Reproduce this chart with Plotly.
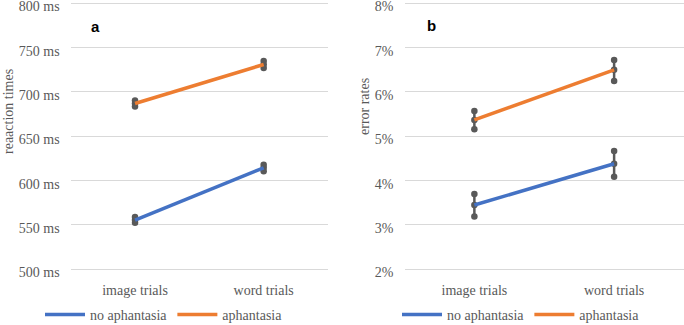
import plotly.graph_objects as go

categories = ["image trials", "word trials"]
series_names = ["no aphantasia", "aphantasia"]

# panel a: reaction times (ms)
rt_mean_no = [555.5, 614.5]
rt_lo_no = [552.5, 610.5]
rt_hi_no = [559.0, 618.0]
rt_mean_aph = [687.0, 731.0]
rt_lo_aph = [683.5, 727.0]
rt_hi_aph = [690.5, 735.0]

# panel b: error rates (%)
er_mean_no = [3.45, 4.38]
er_lo_no = [3.19, 4.09]
er_hi_no = [3.70, 4.67]
er_mean_aph = [5.37, 6.50]
er_lo_aph = [5.16, 6.25]
er_hi_aph = [5.57, 6.72]

rt_ticks = [500, 550, 600, 650, 700, 750, 800]
er_ticks = [2, 3, 4, 5, 6, 7, 8]

BLUE = "#4472C4"
ORANGE = "#ED7D31"
GRAY = "#595959"
GRID = "#D9D9D9"
SERIF = "Liberation Serif"

W, H = 684, 325
fig = go.Figure()


def add_errbars(means, los, his, xa, ya):
    for c, m, lo, hi in zip(categories, means, los, his):
        fig.add_trace(go.Scatter(
            x=[c, c, c], y=[lo, m, hi], mode="lines+markers",
            line=dict(color=GRAY, width=2.5),
            marker=dict(color=GRAY, size=6.5),
            showlegend=False, hoverinfo="skip", xaxis=xa, yaxis=ya))


add_errbars(rt_mean_no, rt_lo_no, rt_hi_no, "x", "y")
add_errbars(rt_mean_aph, rt_lo_aph, rt_hi_aph, "x", "y")
add_errbars(er_mean_no, er_lo_no, er_hi_no, "x2", "y2")
add_errbars(er_mean_aph, er_lo_aph, er_hi_aph, "x2", "y2")

for name, vals, col in [(series_names[0], rt_mean_no, BLUE), (series_names[1], rt_mean_aph, ORANGE)]:
    fig.add_trace(go.Scatter(x=categories, y=vals, mode="lines", name=name,
                             line=dict(color=col, width=3.5), xaxis="x", yaxis="y",
                             legend="legend"))
for name, vals, col in [(series_names[0], er_mean_no, BLUE), (series_names[1], er_mean_aph, ORANGE)]:
    fig.add_trace(go.Scatter(x=categories, y=vals, mode="lines", name=name,
                             line=dict(color=col, width=3.5), xaxis="x2", yaxis="y2",
                             legend="legend2"))

# pixel geometry: 800/8% gridline at y=3.3, 500/2% gridline at y=269.3
px_per_unit_a = (269.3 - 3.3) / 300.0
pad_a = 1.5  # ms beyond ends so end gridlines are drawn
pad_b = 0.03
top_px = 3.3 - pad_a * px_per_unit_a
bot_px = 269.3 + pad_a * px_per_unit_a
ybot = 1 - bot_px / H
ytop = 1 - top_px / H

xcommon = dict(type="category", range=[-0.5, 1.5], showgrid=False, zeroline=False,
               showline=False, ticks="", tickfont=dict(family=SERIF, size=14, color=GRAY),
               ticklabelstandoff=9, automargin=False, fixedrange=True)
ycommon = dict(showgrid=True, gridcolor=GRID, gridwidth=1, zeroline=False, showline=False,
               ticks="", tickfont=dict(family=SERIF, size=14, color=GRAY),
               ticklabelstandoff=10, ticklabelshift=3, automargin=False, fixedrange=True,
               ticklabeloverflow="allow")

legend_common = dict(orientation="h", yref="container", y=1 - 315 / H, xanchor="left",
                     yanchor="middle", xref="container",
                     font=dict(family=SERIF, size=14, color=GRAY), itemwidth=40,
                     bgcolor="rgba(0,0,0,0)", tracegroupgap=0)

fig.update_layout(
    width=W, height=H,
    margin=dict(l=0, r=0, t=0, b=0, autoexpand=False),
    paper_bgcolor="white", plot_bgcolor="white",
    xaxis=dict(domain=[70.7 / W, 328 / W], anchor="y", **xcommon),
    yaxis=dict(domain=[ybot, ytop], anchor="x", range=[500 - pad_a, 800 + pad_a],
               tickvals=rt_ticks, ticktext=[f"{v} ms" for v in rt_ticks], **ycommon),
    xaxis2=dict(domain=[404.5 / W, 1.0], anchor="y2", **xcommon),
    yaxis2=dict(domain=[ybot, ytop], anchor="x2", range=[2 - pad_b, 8 + pad_b],
                tickvals=er_ticks, ticktext=[f"{v}%" for v in er_ticks], **ycommon),
    legend=dict(x=40 / W, **legend_common),
    legend2=dict(x=397 / W, **legend_common),
    showlegend=True,
    annotations=[
        dict(text="<b>a</b>", x=95 / W, y=1 - 27 / H, xref="paper", yref="paper",
             xanchor="center", yanchor="middle",
             showarrow=False, font=dict(family="Liberation Sans", size=15, color="black")),
        dict(text="<b>b</b>", x=431 / W, y=1 - 26 / H, xref="paper", yref="paper",
             xanchor="center", yanchor="middle",
             showarrow=False, font=dict(family="Liberation Sans", size=15, color="black")),
        dict(text="reaaction times", x=9 / W, y=1 - 112 / H, xref="paper", yref="paper",
             xanchor="center", yanchor="middle",
             textangle=-90, showarrow=False, font=dict(family=SERIF, size=14, color=GRAY)),
        dict(text="error rates", x=364 / W, y=1 - 107 / H, xref="paper", yref="paper",
             xanchor="center", yanchor="middle",
             textangle=-90, showarrow=False, font=dict(family=SERIF, size=14, color=GRAY)),
    ],
)

post = (
    "document.documentElement.style.margin='0';"
    "document.documentElement.style.overflow='hidden';"
    "document.body.style.margin='0';"
    "document.body.style.overflow='hidden';"
    "var gd=document.querySelector('.plotly-graph-div');"
    "if(gd&&gd.parentElement){gd.parentElement.style.position='absolute';"
    "gd.parentElement.style.top='0';gd.parentElement.style.left='0';}"
)
fig.write_html("out.html", config={"displayModeBar": False}, post_script=post)
